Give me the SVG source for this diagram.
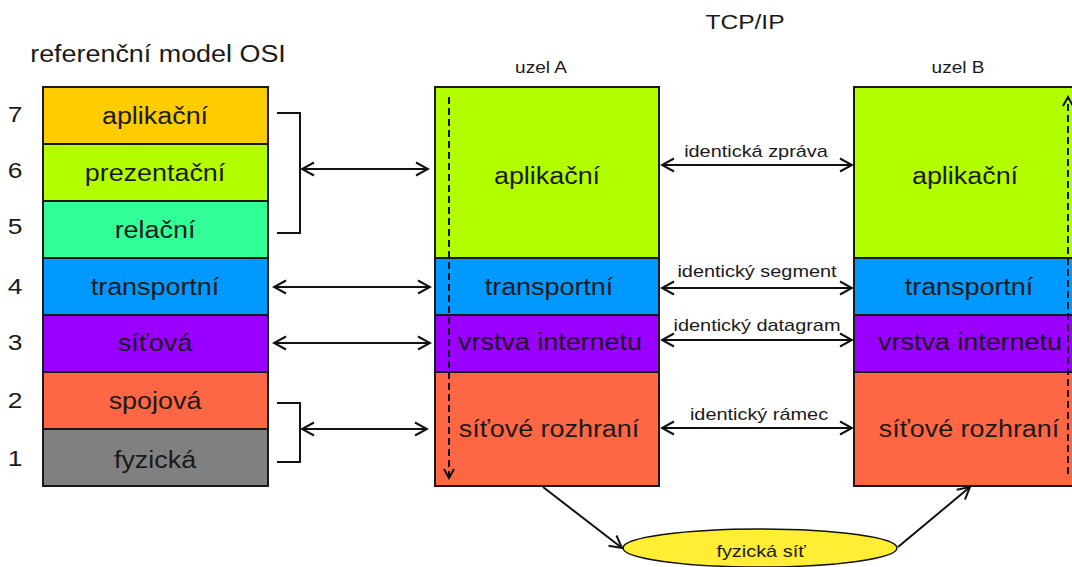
<svg xmlns="http://www.w3.org/2000/svg" width="1072" height="567" viewBox="0 0 1072 567">
<style>
.t{font-family:"Liberation Sans",Arial,sans-serif;fill:#1a1a1a;text-anchor:middle}
.L{font-size:23px}
.s{font-size:17px}
.n{font-size:22px}
.box{stroke:#1a1a1a;stroke-width:2}
.ln{stroke:#111;stroke-width:2;fill:none}
.dash{stroke:#111;stroke-width:2;fill:none;stroke-dasharray:7,4}
</style>
<defs>
<marker id="ah" markerUnits="userSpaceOnUse" markerWidth="16" markerHeight="16" viewBox="0 0 16 16" refX="14" refY="8" orient="auto-start-reverse">
<path d="M2,1.5 L14,8 L2,14.5" fill="none" stroke="#111" stroke-width="2"/>
</marker>
<marker id="ahs" markerUnits="userSpaceOnUse" markerWidth="14" markerHeight="14" viewBox="0 0 14 14" refX="12" refY="7" orient="auto-start-reverse">
<path d="M3,2 L12,7 L3,12" fill="none" stroke="#111" stroke-width="2"/>
</marker>
</defs>
<rect width="1072" height="567" fill="#fff"/>

<g id="titles">
<text class="t" font-size="23" transform="translate(158,62) scale(1.17,1)">referenční model OSI</text>
<text class="t" font-size="21" transform="translate(745,29) scale(1.17,1)">TCP/IP</text>
<text class="t s" transform="translate(541,73) scale(1.12,1)">uzel A</text>
<text class="t s" transform="translate(958,73) scale(1.12,1)">uzel B</text>
</g>

<g id="numbers">
<text class="t n" transform="translate(15,122) scale(1.2,1)">7</text>
<text class="t n" transform="translate(15,178) scale(1.2,1)">6</text>
<text class="t n" transform="translate(15,234) scale(1.2,1)">5</text>
<text class="t n" transform="translate(15,294) scale(1.2,1)">4</text>
<text class="t n" transform="translate(15,350) scale(1.2,1)">3</text>
<text class="t n" transform="translate(15,408) scale(1.2,1)">2</text>
<text class="t n" transform="translate(15,466) scale(1.2,1)">1</text>
</g>

<g id="osi">
<g id="osi-7"><rect class="box" x="43" y="87" width="225" height="57" fill="#FFCC00"/><text class="t L" transform="translate(155,124) scale(1.17,1)">aplikační</text></g>
<g id="osi-6"><rect class="box" x="43" y="144" width="225" height="57" fill="#B3FF00"/><text class="t L" transform="translate(155,181) scale(1.17,1)">prezentační</text></g>
<g id="osi-5"><rect class="box" x="43" y="201" width="225" height="57" fill="#33FF99"/><text class="t L" transform="translate(155,238) scale(1.17,1)">relační</text></g>
<g id="osi-4"><rect class="box" x="43" y="258" width="225" height="57" fill="#0099FF"/><text class="t L" transform="translate(155,295) scale(1.17,1)">transportní</text></g>
<g id="osi-3"><rect class="box" x="43" y="315" width="225" height="57" fill="#9900FF"/><text class="t L" transform="translate(155,351) scale(1.17,1)">síťová</text></g>
<g id="osi-2"><rect class="box" x="43" y="372" width="225" height="57" fill="#FF6644"/><text class="t L" transform="translate(155,409) scale(1.17,1)">spojová</text></g>
<g id="osi-1"><rect class="box" x="43" y="429" width="225" height="57" fill="#808080"/><text class="t L" transform="translate(155,468) scale(1.17,1)">fyzická</text></g>
</g>

<g id="nodeA">
<g id="a-app"><rect class="box" x="435" y="87" width="224" height="171" fill="#B3FF00"/><text class="t L" transform="translate(547,184) scale(1.17,1)">aplikační</text></g>
<g id="a-tr"><rect class="box" x="435" y="258" width="224" height="57" fill="#0099FF"/><text class="t L" transform="translate(549,295) scale(1.17,1)">transportní</text></g>
<g id="a-int"><rect class="box" x="435" y="315" width="224" height="57" fill="#9900FF"/><text class="t L" transform="translate(550,350) scale(1.17,1)">vrstva internetu</text></g>
<g id="a-net"><rect class="box" x="435" y="372" width="224" height="114" fill="#FF6644"/><text class="t L" transform="translate(549,437) scale(1.17,1)">síťové rozhraní</text></g>
</g>

<g id="nodeB">
<g id="b-app"><rect class="box" x="854" y="87" width="226" height="171" fill="#B3FF00"/><text class="t L" transform="translate(965,184) scale(1.17,1)">aplikační</text></g>
<g id="b-tr"><rect class="box" x="854" y="258" width="226" height="57" fill="#0099FF"/><text class="t L" transform="translate(969,295) scale(1.17,1)">transportní</text></g>
<g id="b-int"><rect class="box" x="854" y="315" width="226" height="57" fill="#9900FF"/><text class="t L" transform="translate(970,350) scale(1.17,1)">vrstva internetu</text></g>
<g id="b-net"><rect class="box" x="854" y="372" width="226" height="114" fill="#FF6644"/><text class="t L" transform="translate(969,437) scale(1.17,1)">síťové rozhraní</text></g>
</g>

<g id="phys">
<ellipse cx="760" cy="548" rx="137" ry="19" fill="#FFEE33" stroke="#111" stroke-width="1.5"/>
<text class="t s" transform="translate(761,557) scale(1.17,1)">fyzická síť</text>
</g>

<g id="connectors">
<path class="ln" d="M277,113 H300 V233 H277"/>
<path class="ln" d="M277,403 H300 V462 H277"/>
<line class="ln" x1="302" y1="169" x2="428" y2="169" marker-start="url(#ah)" marker-end="url(#ah)"/>
<line class="ln" x1="274" y1="287" x2="430" y2="287" marker-start="url(#ah)" marker-end="url(#ah)"/>
<line class="ln" x1="274" y1="343" x2="430" y2="343" marker-start="url(#ah)" marker-end="url(#ah)"/>
<line class="ln" x1="302" y1="429" x2="427" y2="429" marker-start="url(#ah)" marker-end="url(#ah)"/>

<line class="ln" x1="662" y1="165" x2="852" y2="165" marker-start="url(#ah)" marker-end="url(#ah)"/>
<line class="ln" x1="662" y1="288" x2="852" y2="288" marker-start="url(#ah)" marker-end="url(#ah)"/>
<line class="ln" x1="662" y1="340" x2="852" y2="340" marker-start="url(#ah)" marker-end="url(#ah)"/>
<line class="ln" x1="662" y1="428" x2="852" y2="428" marker-start="url(#ah)" marker-end="url(#ah)"/>
<text class="t s" transform="translate(756,157) scale(1.17,1)">identická zpráva</text>
<text class="t s" transform="translate(757,277) scale(1.17,1)">identický segment</text>
<text class="t s" transform="translate(757,331) scale(1.17,1)">identický datagram</text>
<text class="t s" transform="translate(759,420) scale(1.17,1)">identický rámec</text>

<line class="dash" x1="449" y1="97" x2="449" y2="478" marker-end="url(#ahs)"/>
<line class="dash" x1="1068" y1="474" x2="1068" y2="97" marker-end="url(#ahs)"/>

<line class="ln" x1="543" y1="487" x2="622" y2="548" marker-end="url(#ah)"/>
<line class="ln" x1="898" y1="547" x2="970" y2="487" marker-end="url(#ah)"/>
</g>
</svg>
